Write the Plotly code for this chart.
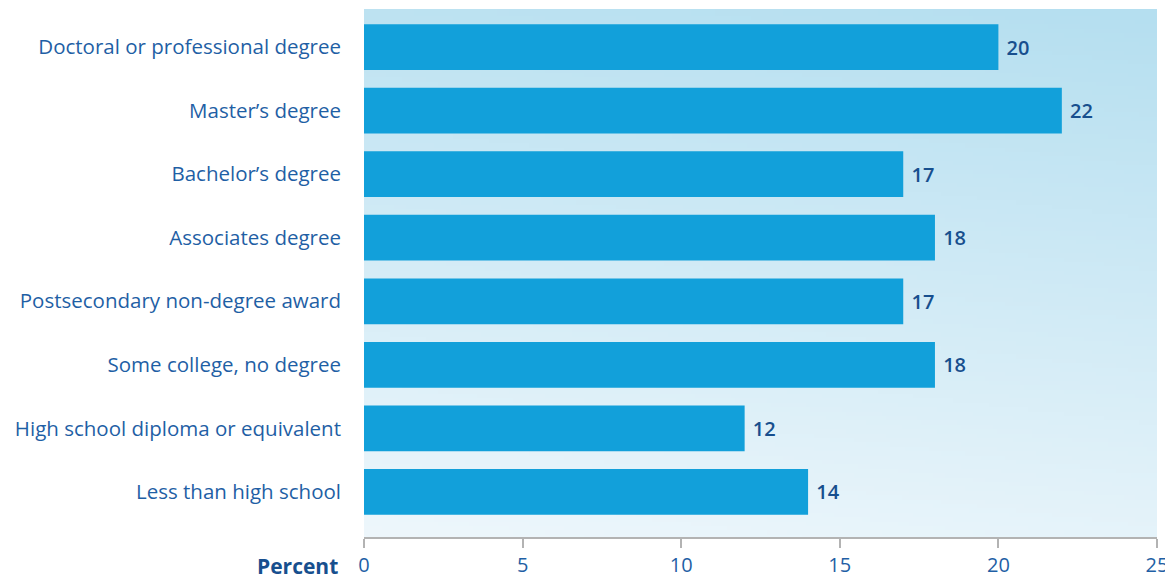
import base64, struct, zlib
import numpy as np
import plotly.graph_objects as go

categories = ["Less than high school", "High school diploma or equivalent",
              "Some college, no degree", "Postsecondary non-degree award",
              "Associates degree", "Bachelor\u2019s degree", "Master\u2019s degree",
              "Doctoral or professional degree"]
values = [14, 12, 18, 17, 18, 17, 22, 20]
x_ticks = [0, 5, 10, 15, 20, 25]

# gradient background image (top-right darker blue -> bottom-left lighter)
def gradient_png(w=200, h=120):
    top = np.array([0xb5, 0xdf, 0xf0], float)
    bot = np.array([0xee, 0xf7, 0xfc], float)
    yy, xx = np.mgrid[0:h, 0:w]
    t = (yy / (h - 1)) * 0.85 + (1 - xx / (w - 1)) * 0.15
    img = top[None, None, :] * (1 - t[..., None]) + bot[None, None, :] * t[..., None]
    img = img.clip(0, 255).astype(np.uint8)
    raw = b"".join(b"\x00" + img[r].tobytes() for r in range(h))
    def chunk(tag, data):
        c = struct.pack(">I", len(data)) + tag + data
        return c + struct.pack(">I", zlib.crc32(tag + data) & 0xffffffff)
    png = b"\x89PNG\r\n\x1a\n" + chunk(b"IHDR", struct.pack(">IIBBBBB", w, h, 8, 2, 0, 0, 0)) \
        + chunk(b"IDAT", zlib.compress(raw, 9)) + chunk(b"IEND", b"")
    return "data:image/png;base64," + base64.b64encode(png).decode()

FONT = "Open Sans"
fig = go.Figure(go.Bar(
    y=categories, x=values, orientation="h",
    marker=dict(color="#12a0da", line=dict(width=0)),
    width=0.72,
    text=values, texttemplate="\u00a0%{text}", textposition="outside", cliponaxis=False,
    textfont=dict(family=FONT, size=20, color="#174f8e", weight=600),
))
# page body has an 8px default margin, so the figure is sized/offset to compensate
fig.update_layout(
    width=1165, height=572,
    margin=dict(l=356, r=16, t=1, b=43, autoexpand=False),
    paper_bgcolor="white", plot_bgcolor="rgba(0,0,0,0)",
    showlegend=False, bargap=0.28,
    font=dict(family=FONT, color="#1f5fa5"),
    images=[dict(source=gradient_png(), xref="paper", yref="paper", x=0, y=1,
                 sizex=1, sizey=1, sizing="stretch", layer="below")],
    annotations=[dict(text="<b>Percent</b>", xref="paper", yref="paper", x=0, y=0,
                      xanchor="right", yanchor="top", xshift=-24, yshift=-13, showarrow=False,
                      font=dict(family=FONT, size=21, color="#174f8e"))],
)
fig.update_xaxes(range=[0, 25], tickvals=x_ticks, showgrid=False, zeroline=False,
                 showline=True, linecolor="#b3b3b3", linewidth=2, automargin=False,
                 ticks="outside", ticklen=9, tickwidth=2, tickcolor="#b3b3b3",
                 tickfont=dict(family=FONT, size=20, color="#1f5fa5"))
fig.update_yaxes(range=[-0.71, 7.6], showgrid=False, zeroline=False, showline=False,
                 ticks="", ticklabelstandoff=22, automargin=False,
                 tickfont=dict(family=FONT, size=20.5, color="#1f5fa5"))
fig.write_html("out.html")
